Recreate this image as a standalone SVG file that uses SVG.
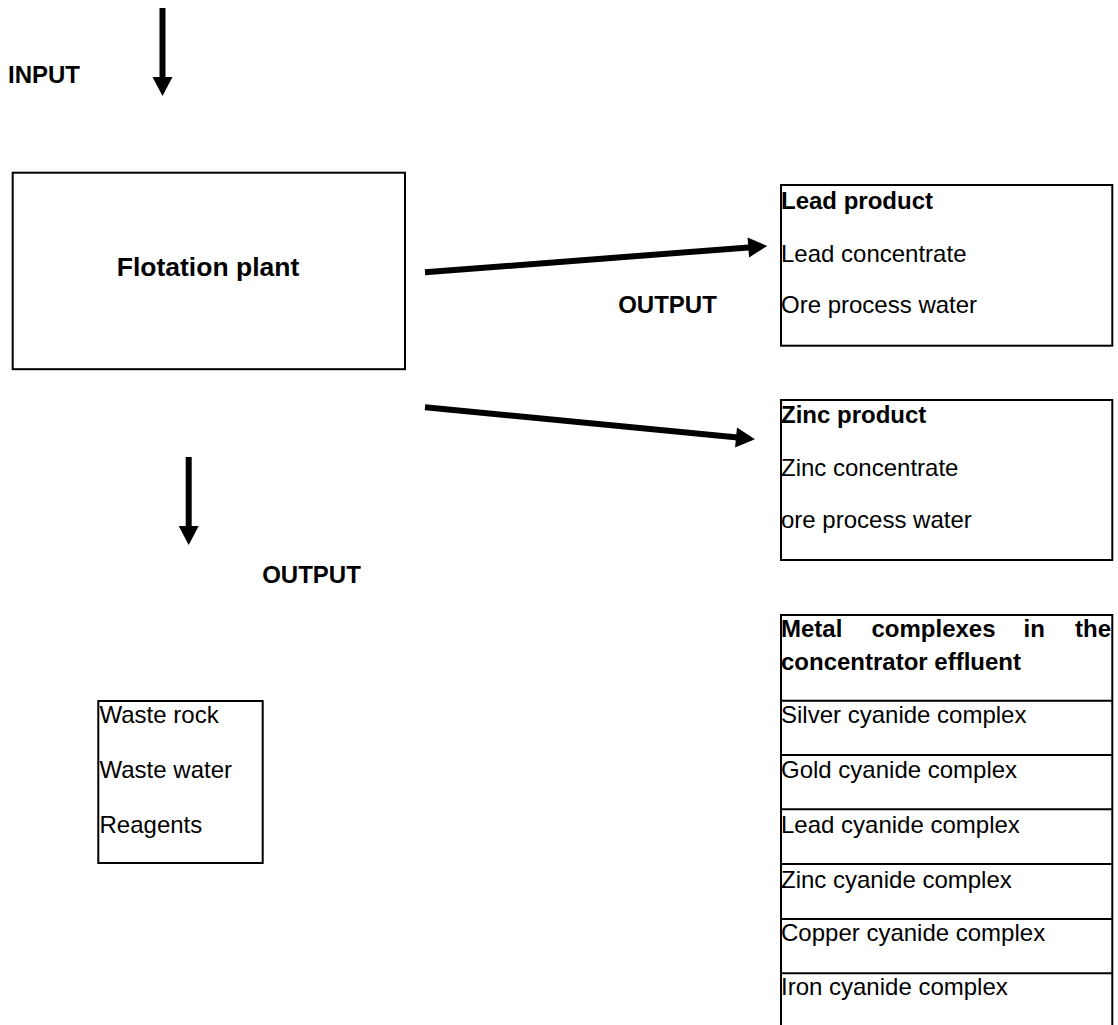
<svg xmlns="http://www.w3.org/2000/svg" width="1118" height="1025" viewBox="0 0 1118 1025">
  <style>
    text { font-family: "Liberation Sans", Arial, Helvetica, sans-serif; font-size: 24px; fill: #000; }
    .b { font-weight: bold; }
    .title { font-size: 26.5px; }
    .box { fill: #fff; stroke: #000; stroke-width: 2; }
    .arrow { stroke: #000; stroke-width: 6; fill: none; marker-end: url(#head); }
    .rule { stroke: #000; stroke-width: 2; }
  </style>
  <defs>
    <marker id="head" markerUnits="userSpaceOnUse" viewBox="-8 -10 20 20" markerWidth="20" markerHeight="20" refX="0" refY="0" orient="auto" overflow="visible">
      <path d="M-7,-10 L12,0 L-7,10 Z" fill="#000"/>
    </marker>
  </defs>
  <rect width="1118" height="1025" fill="#fff"/>

  <g id="connectors">
    <line class="arrow" x1="162.5" y1="8" x2="162.5" y2="84"/>
    <line class="arrow" x1="425" y1="272.3" x2="755.3" y2="246.9"/>
    <line class="arrow" x1="425" y1="407.3" x2="743" y2="438.1"/>
    <line class="arrow" x1="188.7" y1="457" x2="188.7" y2="533"/>
  </g>

  <g id="label-input">
    <text class="b" x="8" y="83.3">INPUT</text>
  </g>
  <g id="label-output-right">
    <text class="b" x="667.5" y="313" text-anchor="middle">OUTPUT</text>
  </g>
  <g id="label-output-down">
    <text class="b" x="311.5" y="583" text-anchor="middle">OUTPUT</text>
  </g>

  <g id="flotation-plant">
    <rect class="box" x="12.7" y="172.7" width="392.3" height="196.5" stroke-width="1.8"/>
    <text class="b title" x="208" y="276" text-anchor="middle">Flotation plant</text>
  </g>

  <g id="lead-product">
    <rect class="box" x="781" y="185" width="331.3" height="160.7"/>
    <text class="b" x="781" y="209">Lead product</text>
    <text x="781" y="261.7">Lead concentrate</text>
    <text x="781" y="313.3">Ore process water</text>
  </g>

  <g id="zinc-product">
    <rect class="box" x="781" y="400" width="331.3" height="160"/>
    <text class="b" x="781" y="423.3">Zinc product</text>
    <text x="781" y="476">Zinc concentrate</text>
    <text x="781" y="528">ore process water</text>
  </g>

  <g id="metal-complexes">
    <rect class="box" x="781" y="615" width="331.3" height="430"/>
    <line class="rule" x1="781" y1="700.7" x2="1112.3" y2="700.7"/>
    <line class="rule" x1="781" y1="755" x2="1112.3" y2="755"/>
    <line class="rule" x1="781" y1="809.3" x2="1112.3" y2="809.3"/>
    <line class="rule" x1="781" y1="864" x2="1112.3" y2="864"/>
    <line class="rule" x1="781" y1="919" x2="1112.3" y2="919"/>
    <line class="rule" x1="781" y1="973.3" x2="1112.3" y2="973.3"/>
    <text class="b" x="781" y="637.3">Metal</text>
    <text class="b" x="871.5" y="637.3">complexes</text>
    <text class="b" x="1023.5" y="637.3">in</text>
    <text class="b" x="1111" y="637.3" text-anchor="end">the</text>
    <text class="b" x="781" y="670">concentrator effluent</text>
    <text x="781" y="723">Silver cyanide complex</text>
    <text x="781" y="778">Gold cyanide complex</text>
    <text x="781" y="832.7">Lead cyanide complex</text>
    <text x="781" y="887.7">Zinc cyanide complex</text>
    <text x="781" y="941">Copper cyanide complex</text>
    <text x="781" y="995">Iron cyanide complex</text>
  </g>

  <g id="waste">
    <rect class="box" x="98.3" y="701" width="164.4" height="162"/>
    <text x="99.5" y="723.3">Waste rock</text>
    <text x="99.5" y="778">Waste water</text>
    <text x="99.5" y="833">Reagents</text>
  </g>
</svg>
